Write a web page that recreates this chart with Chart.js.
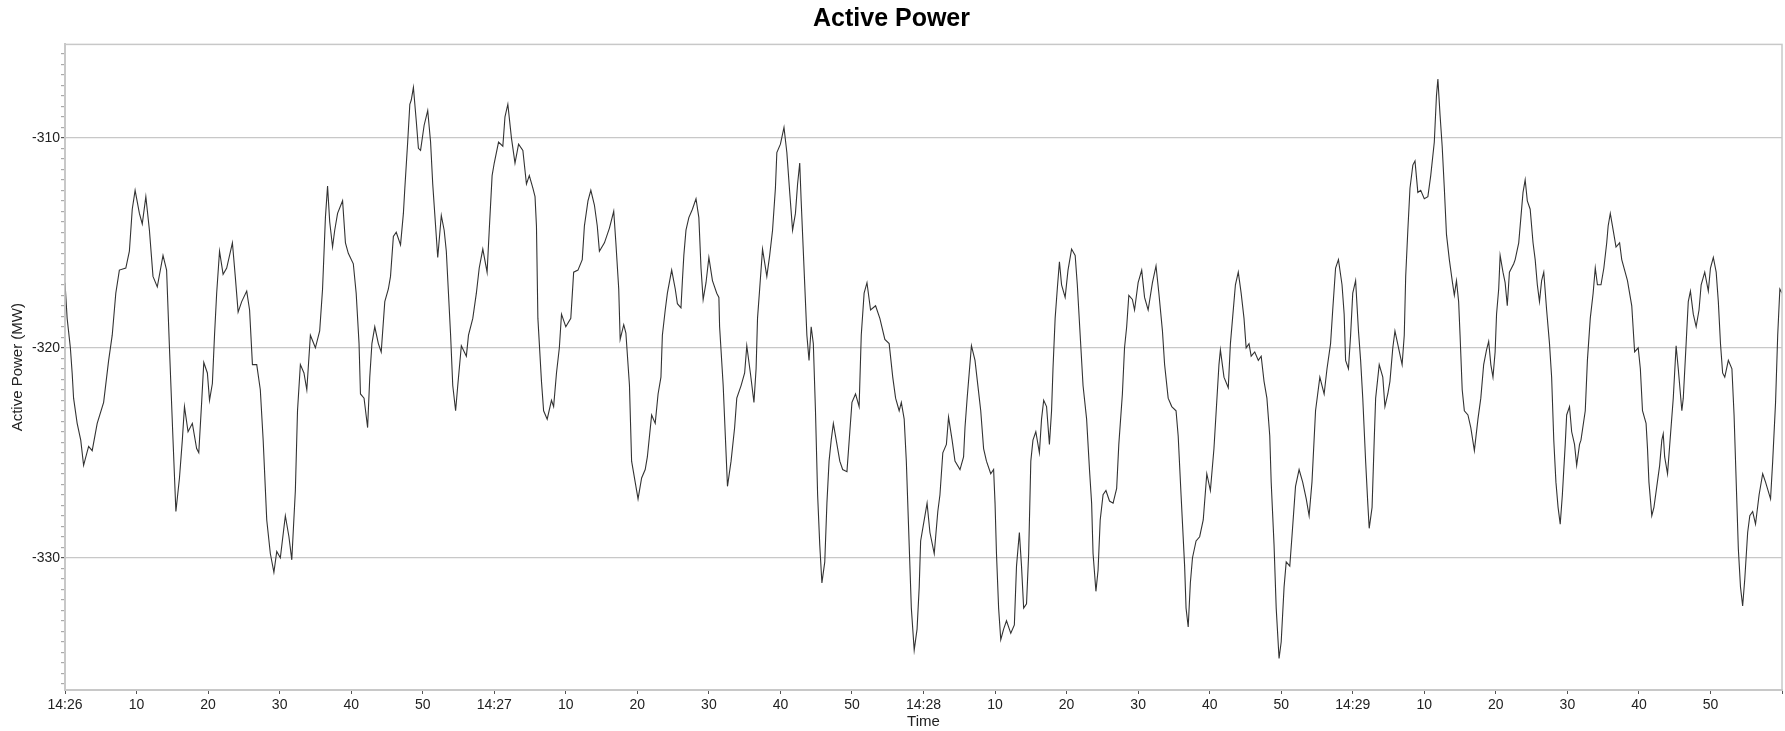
<!DOCTYPE html>
<html>
<head>
<meta charset="utf-8">
<title>Active Power</title>
<script src="https://cdn.jsdelivr.net/npm/chart.js@4.4.1/dist/chart.umd.min.js"></script>
<style>
  html, body { margin: 0; padding: 0; background: #fff; }
  #wrap { width: 1785px; height: 731px; }
</style>
</head>
<body>
<div id="wrap"><canvas id="powerChart" width="1785" height="731"></canvas></div>
<script>
// seconds after 14:26:00
const secs = [
  0, 0.3, 0.75, 1.0, 1.2, 1.7, 2.2, 2.6, 3.3, 3.8, 4.5, 5.4, 6.1, 6.6, 7.1, 7.6, 8.5, 9.0, 9.4, 9.8,
  10.4, 10.8, 11.3, 11.8, 12.3, 12.9, 13.7, 14.2, 14.6, 15.1, 15.5, 16.0, 16.4, 16.7, 17.2, 17.8, 18.4, 18.7, 19.1, 19.4,
  19.9, 20.2, 20.6, 20.9, 21.2, 21.6, 22.1, 22.6, 23.4, 23.8, 24.2, 24.7, 25.4, 25.8, 26.2, 26.8, 27.3, 27.7, 28.2, 28.7,
  29.2, 29.6, 30.1, 30.8, 31.3, 31.7, 32.2, 32.5, 32.9, 33.4, 33.8, 34.3, 35.0, 35.6, 36.0, 36.4, 36.7, 37.0, 37.4, 37.7,
  38.1, 38.8, 39.2,
  39.6, 40.3, 40.7, 41.1, 41.3, 41.8, 42.3, 42.6, 42.9, 43.3, 43.8, 44.2, 44.7, 45.2, 45.5, 45.9, 46.3, 46.9, 47.3, 47.5,
  47.9, 48.2, 48.4, 48.7, 49.1, 49.4, 49.7, 50.2, 50.7, 51.1, 51.4, 51.8, 52.1, 52.6, 53.0, 53.3, 53.6, 53.9, 54.2, 54.6,
  54.9, 55.4, 56.1, 56.4, 57.0, 57.5, 57.9, 58.4, 59.0, 59.3, 59.7, 60.0, 60.6, 61.2, 61.5, 61.9, 62.4, 62.9, 63.4, 64.0,
  64.5, 64.9, 65.4, 65.7, 65.9, 66.1, 66.6, 66.9, 67.4, 68.0, 68.3, 68.7, 69.1, 69.4, 70.0, 70.7, 71.1, 71.7, 72.3, 72.6,
  73.1, 73.5, 74.0, 74.4, 74.7, 75.4, 76.1, 76.7, 77.0, 77.4, 77.6, 78.1, 78.4, 78.9, 79.2,
  79.7, 80.1, 80.6, 81.1, 81.4, 82.0, 82.5, 82.9, 83.3, 83.5, 83.9, 84.2, 84.8, 85.3, 85.6, 86.1, 86.3, 86.5, 86.8, 87.2,
  87.7, 88.2, 88.6, 88.9, 89.2, 89.6, 90.0, 90.5, 91.1, 91.4, 91.5, 92.0, 92.3, 92.6, 93.1, 93.6, 93.9, 94.5, 95.0, 95.3,
  95.8, 96.3, 96.6, 96.8, 97.1, 97.5, 98.1, 98.5, 98.9, 99.3, 99.5, 100.0, 100.5, 100.9, 101.3, 101.7, 102.1, 102.4, 102.7, 102.9,
  103.4, 103.7, 104.0, 104.3, 104.6, 104.9, 105.2, 105.5, 105.8, 106.2, 106.5, 106.8, 107.1, 107.4, 107.8, 108.3, 108.7, 109.3, 109.7, 110.0,
  110.5, 111.0, 111.3, 111.7, 112.1, 112.6, 113.3, 113.9, 114.6, 115.2, 115.7, 116.1, 116.6, 116.9, 117.3, 117.6, 118.0, 118.3, 118.7, 119.1,
  119.4, 119.6, 120.0, 120.5, 120.9, 121.5, 122.0, 122.3, 122.7, 123.2, 123.5, 124.0, 124.4, 125.1, 125.6, 125.8, 126.1, 126.7, 127.2, 127.6,
  128.0, 128.4, 128.8, 129.4, 129.8, 130.0, 130.2, 130.5, 130.8, 131.2, 131.6, 132.2, 132.7, 133.0, 133.4, 133.7, 134.0, 134.4, 134.7, 135.0,
  135.3, 135.7, 136.2, 136.5, 136.8, 137.2, 137.6, 137.9, 138.1, 138.4, 138.7, 139.0, 139.3, 139.8, 140.2, 140.7, 141.2, 141.5, 141.9, 142.3,
  142.8, 143.2, 143.5, 143.7, 144.1, 144.4, 144.7, 145.1, 145.5, 146.0, 146.5, 147.0, 147.3, 147.8, 148.1, 148.4, 148.7, 149.2, 149.5, 150.0,
  150.5, 150.9, 151.4, 152.0, 152.5, 152.9, 153.4, 153.7, 154.2, 154.7, 155.3, 155.6, 156.0, 156.5, 156.7, 157.0, 157.3, 157.6, 158.1, 158.6,
  159.1, 159.6, 160.1, 160.6, 161.3, 161.5, 162.0, 162.6, 162.9, 163.2, 163.6, 164.0, 164.4, 164.8, 165.1, 165.5, 165.8, 166.3, 166.8, 167.2,
  167.6, 168.0, 168.4, 168.6, 169.0, 169.3, 169.7, 170.0, 170.4, 170.7, 171.2, 171.5, 172.0, 172.5, 173.0, 173.5, 173.9, 174.3, 174.8, 175.4,
  176.0, 176.4, 176.9, 177.2, 177.6, 178.0, 178.5, 178.8, 179.0, 179.4, 179.7, 180.0, 180.4, 180.8, 181.1, 181.4, 181.8, 182.1, 182.3, 182.7,
  183.0, 183.2, 183.7, 184.2, 184.5, 184.9, 185.2, 185.6, 185.9, 186.4, 186.9, 187.2, 187.4, 187.7, 188.0, 188.4, 188.7, 189.1, 189.5, 190.0,
  190.5, 190.9, 191.4, 191.7, 191.9, 192.2, 192.5, 192.8, 193.1, 193.5, 193.9, 194.2, 194.5, 194.8, 195.0, 195.3, 195.6, 196.1, 196.5, 197.0,
  197.5, 197.9,
  198.3, 198.7, 199.0, 199.3, 199.6, 199.9, 200.1, 200.4, 200.6, 201.0, 201.3, 201.6, 201.9, 202.5, 202.7, 203.2, 203.5, 203.8, 204.1, 204.4,
  204.8, 205.2, 205.5, 205.8, 206.1, 206.4, 206.7, 207.1, 207.5, 207.8, 208.1, 208.4, 208.7, 209.0, 209.3, 209.7, 209.9, 210.3, 210.6, 211.0,
  211.3, 211.7, 211.9, 212.5, 212.8, 213.2, 213.6, 213.9, 214.2, 214.7, 215.1, 215.5, 215.7, 216.0, 216.4, 216.8, 217.3, 217.6, 218.0, 218.4,
  219.0, 219.4, 219.9, 220.2, 220.5, 221.0, 221.2, 221.4, 221.8, 222.1, 222.5, 222.9, 223.2, 223.4, 223.6, 224.0, 224.8, 225.2, 225.5, 226.0,
  226.2, 226.6, 226.9, 227.2, 227.6, 228.0, 228.4, 228.7, 229.2, 229.7, 230.0, 230.4, 230.8, 231.1, 231.4, 231.7, 232.0, 232.5, 233.0, 233.3,
  233.9, 234.2, 234.5, 234.8, 235.2, 235.5, 235.9, 236.3, 236.8, 237.3, 237.7, 238.4, 238.7, 239.1, 239.4, 239.7, 240
];

// active power, MW
const mw = [
  -316.9, -318.6, -320, -321.2, -322.4, -323.6, -324.4, -325.6, -324.7, -324.9, -323.6, -322.6, -320.6, -319.4, -317.4, -316.3, -316.2, -315.4, -313.4, -312.5,
  -313.6, -314.1, -312.8, -314.4, -316.6, -317.1, -315.6, -316.3, -320, -324.4, -327.8, -326.2, -324.4, -322.8, -324, -323.6, -324.8, -325, -322.6, -320.7,
  -321.2, -322.5, -321.7, -319.4, -317.4, -315.4, -316.5, -316.2, -315.0, -316.6, -318.3, -317.8, -317.3, -318.2, -320.8, -320.8, -322, -324.4, -328.2, -329.8,
  -330.7, -329.7, -330, -328, -329, -330.1, -326.8, -323, -320.8, -321.2, -322, -319.4, -320, -319.2, -317.2, -313.8, -312.3, -314, -315.2, -314.4,
  -313.6, -313, -315,
  -315.5, -316, -317.4, -319.8, -322.2, -322.4, -323.8, -321.4, -319.8, -319, -319.8, -320.2, -317.8, -317.2, -316.6, -314.7, -314.5, -315.1, -313.6, -312.4,
  -310.2, -308.4, -308.2, -307.6, -309.2, -310.5, -310.6, -309.4, -308.7, -310.2, -312.2, -314.2, -315.7, -313.7, -314.4, -315.4, -317.4, -319.4, -321.8, -323,
  -321.8, -319.9, -320.4, -319.4, -318.6, -317.4, -316.2, -315.3, -316.4, -314.4, -311.8, -311.2, -310.2, -310.4, -309, -308.4, -310, -311.2, -310.3, -310.6,
  -312.2, -311.8, -312.4, -312.8, -314.2, -318.6, -321.6, -323, -323.4, -322.5, -322.8, -321.2, -320, -318.4, -319, -318.6, -316.4, -316.3, -315.8, -314.2,
  -313, -312.5, -313.2, -314.2, -315.4, -315, -314.3, -313.5, -315, -317.2, -319.6, -318.9, -319.3, -321.8, -325.4,
  -326.4, -327.2, -326.2, -325.8, -325.2, -323.2, -323.6, -322.2, -321.4, -319.4, -318.2, -317.4, -316.3, -317.2, -317.9, -318.1, -316.8, -315.6, -314.4, -313.8,
  -313.4, -312.9, -313.8, -316.2, -317.7, -316.9, -315.7, -316.8, -317.4, -317.6, -319, -321.8, -324.2, -326.6, -325.4, -323.8, -322.4, -321.8, -321.2, -319.9,
  -321.2, -322.6, -321, -318.6, -317.2, -315.3, -316.6, -315.6, -314.4, -312.4, -310.7, -310.3, -309.5, -310.7, -312.6, -314.4, -313.6, -312.2, -311.2, -313,
  -317, -319.4, -320.6, -319, -319.8, -323, -327, -329.4, -331.2, -330.2, -327.4, -325.4, -324.4, -323.6, -324.4, -325.4, -325.8, -325.9, -324, -322.6,
  -322.2, -322.8, -319.4, -317.4, -316.9, -318.2, -318, -318.6, -319.6, -319.8, -321.4, -322.4, -323, -322.6, -323.4, -325.4, -329.4, -332.4, -334.4, -333.4,
  -331.4, -329.2, -328.4, -327.4, -328.8, -329.8, -327.8, -327, -325, -324.6, -323.3, -324.4, -325.4, -325.8, -325.2, -323.8, -322.4, -319.9, -320.6, -321.8,
  -323, -324.8, -325.4, -326, -325.8, -327.4, -329.8, -332.4, -333.9, -333.4, -333, -333.6, -333.2, -330.4, -328.8, -330.4, -332.4, -332.2, -329.8, -325.4,
  -324.4, -324, -325, -323.4, -322.5, -322.8, -324.6, -323, -321, -318.6, -317.2, -315.9, -317, -317.6, -316.3, -315.3, -315.6, -317, -319.4, -321.8,
  -323.4, -325.8, -327.4, -329.8, -331.6, -330.6, -328.2, -327, -326.8, -327.3, -327.4, -326.7, -324.6, -322.2, -320, -319, -317.5, -317.7, -318.2, -316.9,
  -316.3, -317.6, -318.2, -316.9, -316.1, -317.4, -319.2, -320.8, -322.4, -322.8, -323, -324.2, -327, -330.4, -332.4, -333.3, -331.2, -330, -329.2, -329,
  -328.2, -326, -326.8, -324.8, -320.8, -320.1, -321.4, -321.9, -319.8, -318.6, -317, -316.4, -317.4, -318.6, -320, -319.8, -320.4, -320.2, -320.6, -320.4,
  -321.6, -322.4, -324.2, -326.4, -329.4, -332.4, -334.8, -334, -331.4, -330.2, -330.4, -329, -326.6, -325.8, -326.4, -327.2, -328, -326.4, -323, -321.4,
  -322.2, -321, -319.8, -318.2, -316.2, -315.8, -317, -318.4, -320.6, -321, -319.4, -317.4, -316.8, -319.2, -320.6, -322.4, -325.4, -327.4, -328.6, -327.6,
  -324.4, -322.4, -320.8, -321.4, -322.8, -322.2, -321.6, -320, -319.2, -320, -320.8, -319.4, -316.6, -314.4, -312.4, -311.3, -311.1, -312.6, -312.5, -312.9,
  -312.8, -311.8, -310.2, -308.0, -307.2, -308.9, -310.4, -312.4, -314.6, -315.8, -316.8, -317.5, -316.8, -317.8, -319.4, -322, -323, -323.2, -323.8, -324.9,
  -323.4, -322.4,
  -320.8, -320.1, -319.7, -320.8, -321.4, -320.2, -318.4, -317.2, -315.6, -316.4, -316.9, -318, -316.4, -316, -315.8, -315, -313.8, -312.6, -312, -313,
  -313.4, -315, -315.8, -317, -317.8, -316.8, -316.4, -318.2, -319.8, -321.4, -324.4, -326.4, -327.6, -328.4, -327, -324.6, -323.2, -322.8, -324, -324.6,
  -325.6, -324.6, -324.4, -323, -320.6, -318.6, -317.4, -316.2, -317, -317, -316.2, -315, -314.2, -313.6, -314.4, -315.2, -315, -315.8, -316.3, -316.8,
  -318, -320.2, -320, -321, -323, -323.6, -324.8, -326.4, -328, -327.6, -326.6, -325.6, -324.4, -324.1, -325.2, -326, -322.4, -319.9, -321, -323,
  -322.4, -319.8, -317.8, -317.3, -318.4, -319, -318.2, -317, -316.4, -317.3, -316.2, -315.7, -316.4, -317.8, -319.8, -321.2, -321.4, -320.6, -321, -323.2,
  -329.6, -331.4, -332.3, -331, -328.8, -328, -327.8, -328.4, -327, -326, -326.4, -327.2, -325.4, -322.6, -319.4, -317.2, -317.4
];

const X_MIN = 0, X_MAX = 240, X_STEP = 10;
const Y_MIN = -336.3, Y_MAX = -305.55;
const HOUR = 14, FIRST_MINUTE = 26;

const FONT = '"Liberation Sans", Arial, Helvetica, sans-serif';
const isMajorY = v => Math.abs(v % 10) < 1e-6;

// light frame round the plot area
const plotFrame = {
  id: 'plotFrame',
  afterDraw(chart) {
    const { ctx, chartArea: a } = chart;
    ctx.save();
    ctx.strokeStyle = '#c8c8c8';
    ctx.lineWidth = 1.5;
    ctx.strokeRect(a.left, a.top, a.right - a.left, a.bottom - a.top);
    ctx.restore();
  }
};

const ctx = document.getElementById('powerChart').getContext('2d');
new Chart(ctx, {
  type: 'line',
  data: {
    datasets: [{
      label: 'Active Power',
      data: secs.map((s, i) => ({ x: s, y: mw[i] })),
      borderColor: '#333333',
      borderWidth: 1.1,
      pointRadius: 0,
      tension: 0,
      fill: false
    }]
  },
  options: {
    responsive: false,
    animation: false,
    layout: { padding: { left: 0, right: 2, top: 0, bottom: 0 } },
    plugins: {
      legend: { display: false },
      tooltip: { enabled: false },
      title: {
        display: true,
        text: 'Active Power',
        color: '#000',
        font: { family: FONT, size: 25, weight: 'bold' },
        padding: { top: 4.5, bottom: 9.9 }
      }
    },
    scales: {
      x: {
        type: 'linear',
        min: X_MIN,
        max: X_MAX,
        ticks: {
          stepSize: X_STEP,
          autoSkip: false,
          maxRotation: 0,
          padding: 3,
          color: '#222',
          font: { family: FONT, size: 14 },
          callback: v => {
            if (v % 60 !== 0) return String(v % 60);
            return v < X_MAX ? HOUR + ':' + (FIRST_MINUTE + v / 60) : '';
          }
        },
        grid: { drawOnChartArea: false, tickLength: 4, tickColor: '#555' },
        border: { color: '#c8c8c8', width: 2 },
        title: {
          display: true,
          text: 'Time',
          color: '#222',
          font: { family: FONT, size: 15 },
          padding: { top: 0, bottom: 0 }
        },
        afterFit: s => { s.height = 41; }
      },
      y: {
        type: 'linear',
        min: Y_MIN,
        max: Y_MAX,
        ticks: {
          stepSize: 0.5,
          includeBounds: false,
          autoSkip: false,
          padding: 1,
          color: '#222',
          font: { family: FONT, size: 14 },
          callback: v => isMajorY(v) ? String(v) : ''
        },
        grid: {
          tickLength: 4,
          color: c => isMajorY(c.tick.value) ? '#c8c8c8' : 'rgba(0,0,0,0)',
          tickColor: c => isMajorY(c.tick.value) ? '#555' : '#aaa',
          lineWidth: 1.2
        },
        border: { color: '#c8c8c8', width: 2 },
        title: {
          display: true,
          text: 'Active Power (MW)',
          color: '#222',
          font: { family: FONT, size: 15 },
          padding: { top: 9, bottom: 0 }
        },
        afterFit: s => { s.width = 65; }
      }
    }
  },
  plugins: [plotFrame]
});
</script>
</body>
</html>
